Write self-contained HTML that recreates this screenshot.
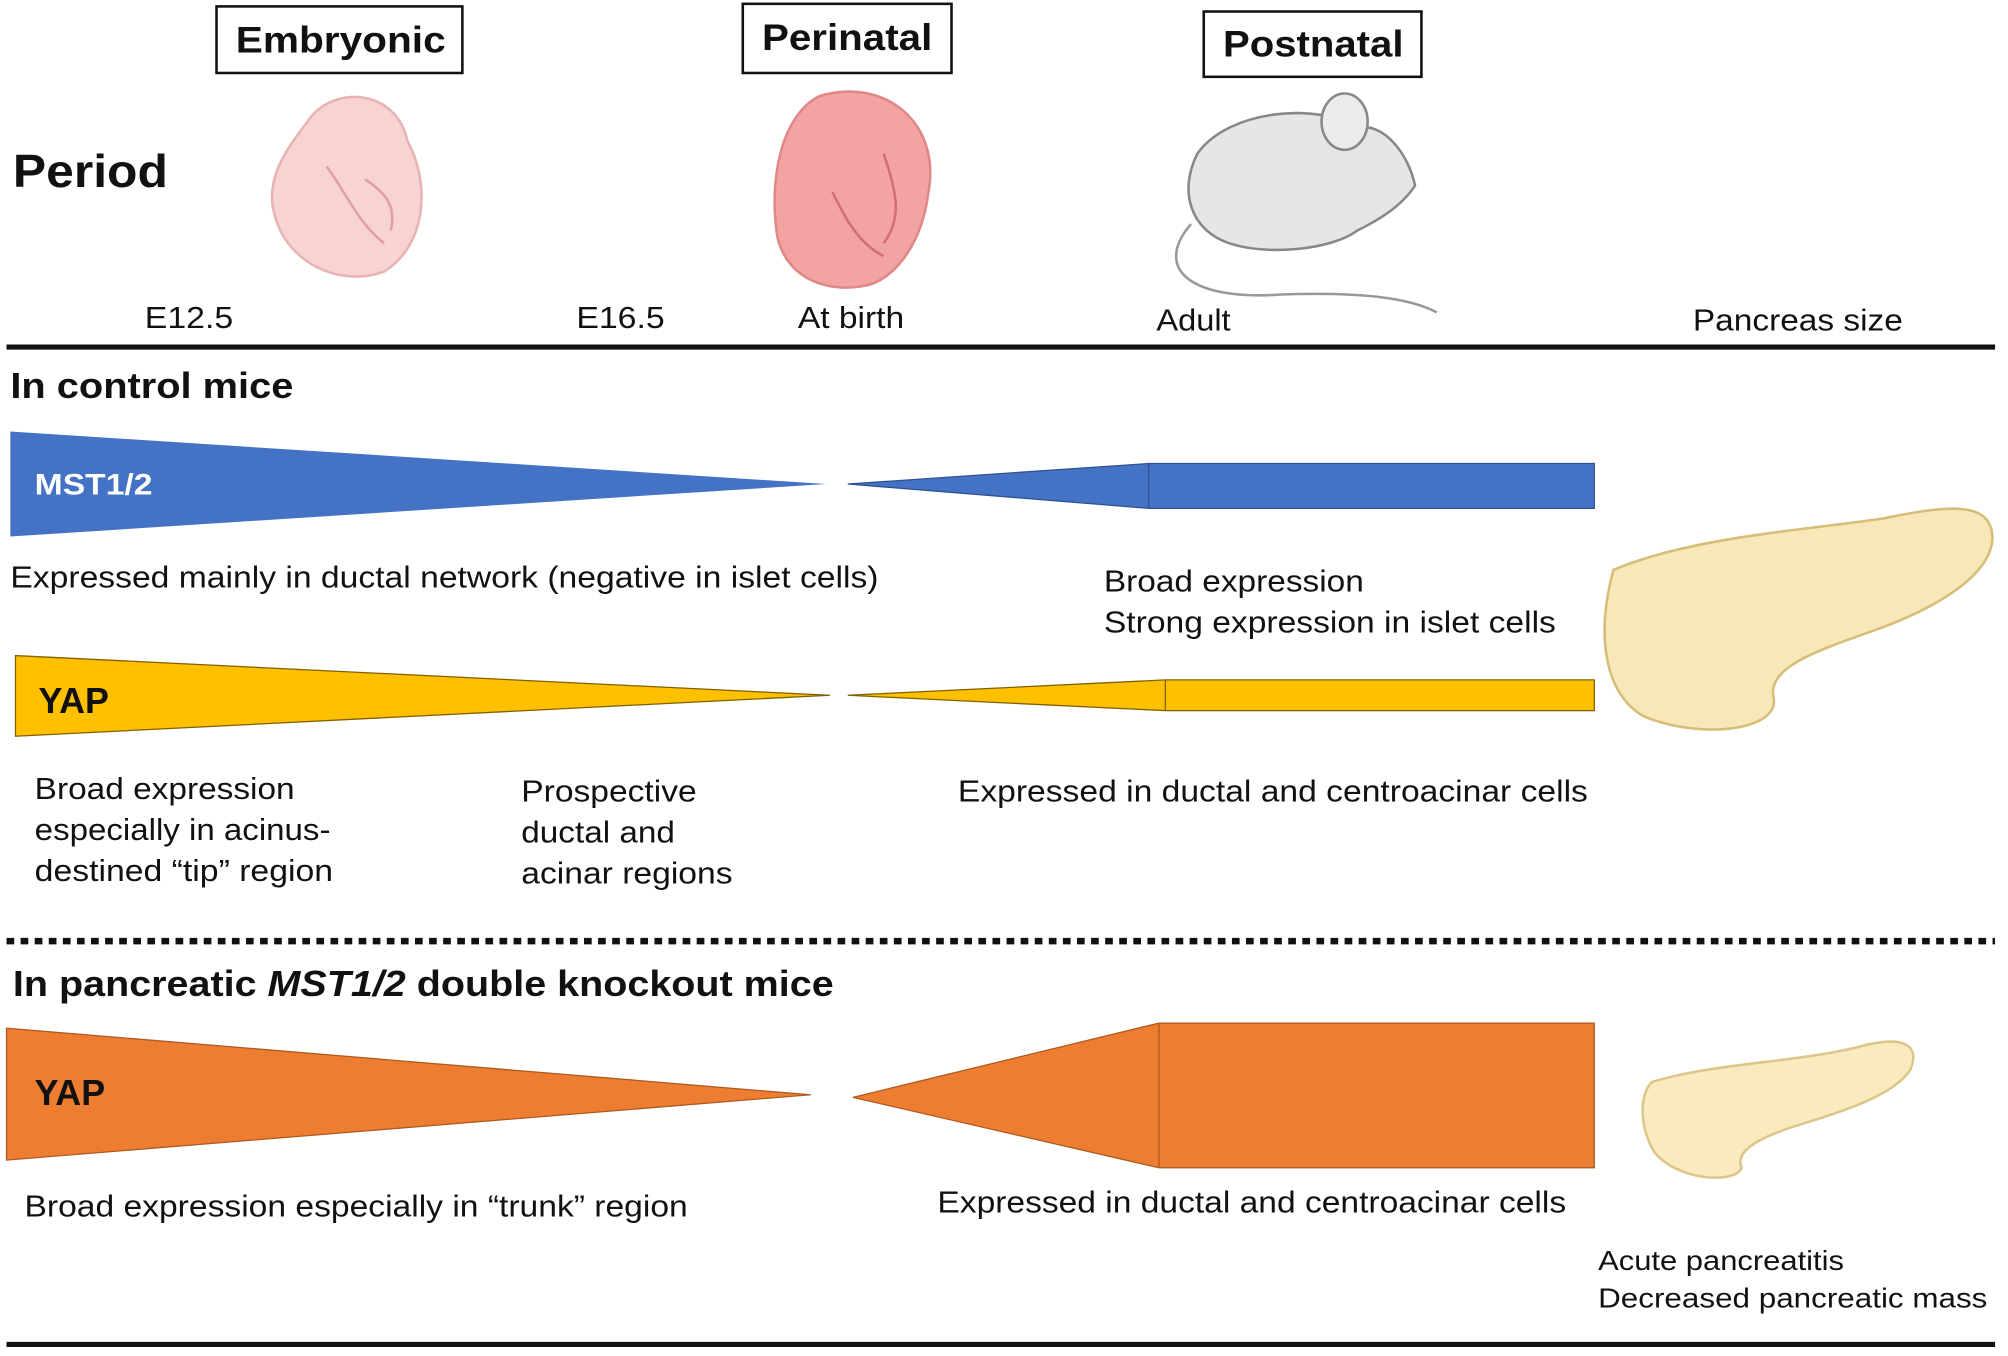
<!DOCTYPE html>
<html><head><meta charset="utf-8"><style>
html,body{margin:0;padding:0;background:#fff;}
svg{display:block;}
text{font-family:"Liberation Sans",Arial,sans-serif;fill:#111;}
.b{font-weight:bold;}
</style></head><body>
<svg width="2008" height="1356" viewBox="0 0 1568 1059" xmlns="http://www.w3.org/2000/svg">
<rect width="1568" height="1059" fill="#fff"/>
<rect x="169" y="5" width="192" height="52" fill="#fff" stroke="#111" stroke-width="2"/>
<text x="184" y="41" font-size="29" class="b" textLength="164" lengthAdjust="spacingAndGlyphs">Embryonic</text>
<rect x="580" y="3" width="163" height="54" fill="#fff" stroke="#111" stroke-width="2"/>
<text x="595" y="39" font-size="29" class="b" textLength="133" lengthAdjust="spacingAndGlyphs">Perinatal</text>
<rect x="940" y="9" width="170" height="51" fill="#fff" stroke="#111" stroke-width="2"/>
<text x="955" y="44" font-size="29" class="b" textLength="141" lengthAdjust="spacingAndGlyphs">Postnatal</text>
<text x="10" y="146" font-size="36" class="b" textLength="121" lengthAdjust="spacingAndGlyphs">Period</text>
<path d="M240,95 C260,65 310,70 318,110 C335,140 335,190 300,212 C265,225 225,205 215,170 C205,140 225,115 240,95Z" fill="#f8d3d3" stroke="#e9b3b3" stroke-width="2"/>
<path d="M255,130 C270,150 280,175 300,190 M285,140 C300,150 310,160 305,180" fill="none" stroke="#e0a0a0" stroke-width="2"/>
<path d="M640,75 C690,60 735,95 725,150 C720,190 700,215 680,222 C650,230 615,220 607,185 C600,140 610,90 640,75Z" fill="#f4a3a3" stroke="#e08888" stroke-width="2"/>
<path d="M650,150 C660,170 670,190 690,200 M690,120 C700,150 705,170 690,190" fill="none" stroke="#d07070" stroke-width="2"/>
<path d="M935,120 C960,85 1030,80 1060,100 C1080,95 1100,120 1105,145 C1095,160 1080,170 1060,180 C1040,195 990,200 960,190 C930,180 920,150 935,120Z" fill="#e6e6e6" stroke="#888" stroke-width="2"/>
<ellipse cx="1050" cy="95" rx="18" ry="22" fill="#ececec" stroke="#888" stroke-width="2"/>
<path d="M930,175 C900,210 930,235 1000,230 C1060,228 1100,232 1122,244" fill="none" stroke="#999" stroke-width="2"/>
<text x="113" y="256" font-size="24" textLength="69" lengthAdjust="spacingAndGlyphs">E12.5</text>
<text x="450" y="256" font-size="24" textLength="69" lengthAdjust="spacingAndGlyphs">E16.5</text>
<text x="623" y="256" font-size="24" textLength="83" lengthAdjust="spacingAndGlyphs">At birth</text>
<text x="903" y="258" font-size="24" textLength="58" lengthAdjust="spacingAndGlyphs">Adult</text>
<text x="1322" y="258" font-size="24" textLength="164" lengthAdjust="spacingAndGlyphs">Pancreas size</text>
<line x1="5" y1="271" x2="1558" y2="271" stroke="#111" stroke-width="4"/>
<text x="8" y="311" font-size="28" class="b" textLength="221" lengthAdjust="spacingAndGlyphs">In control mice</text>
<polygon points="8,337 8,419 645,378" fill="#4472c4"/>
<polygon points="662,378 897,362 1245,362 1245,397 897,397" fill="#4472c4" stroke="#2f528f" stroke-width="1"/>
<line x1="897" y1="362" x2="897" y2="397" stroke="#2f528f" stroke-width="1"/>
<text x="27" y="386" font-size="23" class="b" style="fill:#fff" textLength="92" lengthAdjust="spacingAndGlyphs">MST1/2</text>
<text x="8" y="459" font-size="24" textLength="678" lengthAdjust="spacingAndGlyphs">Expressed mainly in ductal network (negative in islet cells)</text>
<text x="862" y="462" font-size="24" textLength="203" lengthAdjust="spacingAndGlyphs">Broad expression</text>
<text x="862" y="494" font-size="24" textLength="353" lengthAdjust="spacingAndGlyphs">Strong expression in islet cells</text>
<polygon points="12,512 12,575 648,543" fill="#ffc000" stroke="#7f6000" stroke-width="1"/>
<polygon points="662,543 910,531 1245,531 1245,555 910,555" fill="#ffc000" stroke="#7f6000" stroke-width="1"/>
<line x1="910" y1="531" x2="910" y2="555" stroke="#7f6000" stroke-width="1"/>
<text x="30" y="557" font-size="28" class="b">YAP</text>
<text x="27" y="624" font-size="24" textLength="203" lengthAdjust="spacingAndGlyphs">Broad expression</text>
<text x="27" y="656" font-size="24" textLength="231" lengthAdjust="spacingAndGlyphs">especially in acinus-</text>
<text x="27" y="688" font-size="24" textLength="233" lengthAdjust="spacingAndGlyphs">destined “tip” region</text>
<text x="407" y="626" font-size="24" textLength="137" lengthAdjust="spacingAndGlyphs">Prospective</text>
<text x="407" y="658" font-size="24" textLength="120" lengthAdjust="spacingAndGlyphs">ductal and</text>
<text x="407" y="690" font-size="24" textLength="165" lengthAdjust="spacingAndGlyphs">acinar regions</text>
<text x="748" y="626" font-size="24" textLength="492" lengthAdjust="spacingAndGlyphs">Expressed in ductal and centroacinar cells</text>
<path d="M1260,445 C1320,420 1400,415 1470,405 C1520,395 1555,390 1556,420 C1555,450 1510,475 1470,490 C1420,508 1380,520 1385,545 C1390,570 1330,578 1285,560 C1255,545 1245,500 1260,445Z" fill="#f8e7b8" stroke="#d6bd78" stroke-width="2"/>
<line x1="5" y1="735" x2="1558" y2="735" stroke="#111" stroke-width="5" stroke-dasharray="6,5"/>
<text x="10" y="778" font-size="28" class="b" textLength="641" lengthAdjust="spacingAndGlyphs">In pancreatic <tspan font-style="italic">MST1/2</tspan> double knockout mice</text>
<polygon points="5,803 5,906 633,855" fill="#ed7d31" stroke="#ae5a21" stroke-width="1"/>
<polygon points="666,857 905,799 1245,799 1245,912 905,912" fill="#ed7d31" stroke="#ae5a21" stroke-width="1"/>
<line x1="905" y1="799" x2="905" y2="912" stroke="#ae5a21" stroke-width="1"/>
<text x="27" y="863" font-size="28" class="b">YAP</text>
<text x="19" y="950" font-size="24" textLength="518" lengthAdjust="spacingAndGlyphs">Broad expression especially in “trunk” region</text>
<text x="732" y="947" font-size="24" textLength="491" lengthAdjust="spacingAndGlyphs">Expressed in ductal and centroacinar cells</text>
<path d="M1290,845 C1340,830 1400,830 1450,818 C1485,808 1500,815 1492,835 C1480,855 1440,868 1400,880 C1370,890 1355,900 1360,912 C1355,925 1310,922 1292,900 C1280,880 1280,855 1290,845Z" fill="#faeabf" stroke="#dcc68a" stroke-width="2"/>
<text x="1248" y="992" font-size="22" textLength="192" lengthAdjust="spacingAndGlyphs">Acute pancreatitis</text>
<text x="1248" y="1021" font-size="22" textLength="304" lengthAdjust="spacingAndGlyphs">Decreased pancreatic mass</text>
<line x1="5" y1="1050" x2="1558" y2="1050" stroke="#111" stroke-width="4"/>
</svg>
</body></html>
